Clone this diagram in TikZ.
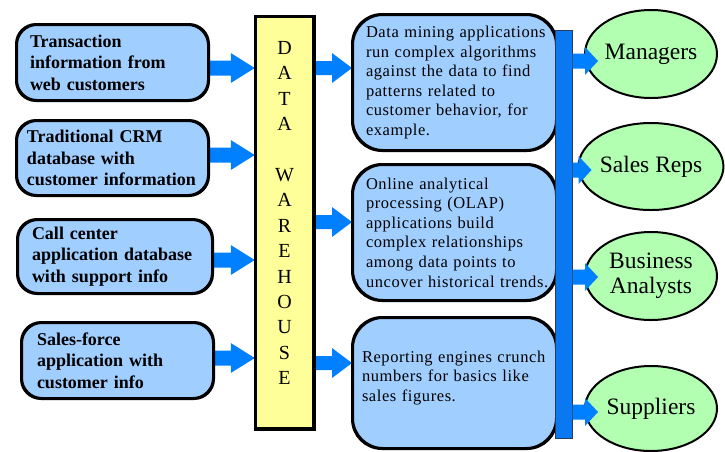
\documentclass[tikz,border=0pt]{standalone}
\usepackage{fontspec}
\setmainfont{Liberation Serif}
\newfontfamily\midfont[LetterSpace=3.5]{Liberation Serif}
\usetikzlibrary{calc,shapes.geometric}
\definecolor{boxblue}{RGB}{160,206,255}
\definecolor{ellgreen}{RGB}{178,255,178}
\definecolor{whyellow}{RGB}{255,255,153}
\definecolor{arrblue}{RGB}{0,128,255}
\definecolor{barblue}{RGB}{10,120,240}
\definecolor{baredge}{RGB}{40,60,90}
\newcommand\oneline[1]{\mbox{#1}}
% #1 start (sets y), #2 tip x reference, #3 tip x offset, #4 head length, #5 shaft half, #6 head half
\newcommand\blockarr[6]{%
  \fill[arrblue] let \p1=(#1), \p2=(#2) in
   (\x1,\y1+#5) -- (\x2+#3-#4,\y1+#5) -- (\x2+#3-#4,\y1+#6) -- (\x2+#3,\y1)
   -- (\x2+#3-#4,\y1-#6) -- (\x2+#3-#4,\y1-#5) -- (\x1,\y1-#5) -- cycle;}
\begin{document}
\begin{tikzpicture}[x=1pt,y=-1pt,
  srcbox/.style={draw=black, line width=2pt, fill=boxblue, rounded corners=20pt,
    align=left, inner ysep=0pt, font=\fontsize{18}{21.5}\selectfont\bfseries},
  appbox/.style={draw=black, line width=2pt, fill=boxblue, rounded corners=30pt,
    minimum width=203pt, align=left, inner ysep=0pt, font=\midfont\fontsize{16.5}{19.6}\selectfont},
  userell/.style={ellipse, draw=black, line width=2pt, fill=ellgreen, inner sep=0pt,
    minimum width=132pt, align=center, font=\fontsize{23.5}{25}\selectfont},
  whbox/.style={draw=black, line width=2.5pt, fill=whyellow, inner sep=0pt,
    minimum width=57pt, minimum height=411pt},
  busbar/.style={draw=baredge, line width=1pt, fill=barblue, inner sep=0pt,
    minimum width=17pt, minimum height=408pt}
]
\useasboundingbox (0,0) rectangle (725,451);

% source boxes
\node[srcbox, minimum width=191pt, minimum height=75pt, inner xsep=13pt, text width=165pt] (l1) at (112.5,62.5)
  {\oneline{Transaction}\\\oneline{information from}\\\oneline{web customers}};
\node[srcbox, minimum width=191pt, minimum height=74pt, inner xsep=10pt, text width=171pt] (l2) at (112.5,158)
  {\oneline{Traditional CRM}\\\oneline{database with}\\\oneline{customer information}};
\node[srcbox, minimum width=194pt, minimum height=73pt, inner xsep=14pt, text width=166pt] (l3) at (115,256.5)
  {\oneline{Call center}\\\oneline{application database}\\\oneline{with support info}};
\node[srcbox, minimum width=191pt, minimum height=75pt, inner xsep=15pt, text width=161pt] (l4) at (117.5,360.5)
  {\oneline{Sales-force}\\\oneline{application with}\\\oneline{customer info}};

% warehouse
\node[whbox] (wh) at (284.5,222.5)
  {\raisebox{9.5pt}[\height][\depth]{\parbox{24pt}{\centering\fontsize{20}{25.4}\selectfont
   D\\A\\T\\A\\[25.4pt]W\\A\\R\\E\\H\\O\\U\\S\\E}}};

% application boxes
\node[appbox, minimum height=135pt, inner xsep=13pt, text width=177pt] (m1) at (454.5,82.5)
  {\oneline{Data mining applications}\\\oneline{run complex algorithms}\\\oneline{against the data to find}\\
   \oneline{patterns related to}\\\oneline{customer behavior, for}\\\oneline{example.}};
\node[appbox, minimum height=135pt, inner xsep=13pt, text width=177pt] (m2) at (454.5,232.5)
  {\oneline{Online analytical}\\\oneline{processing (OLAP)}\\\oneline{applications build}\\
   \oneline{complex relationships}\\\oneline{among data points to}\\\oneline{uncover historical trends.}};
\node[appbox, minimum height=130pt, inner xsep=9pt, text width=185pt] (m3) at (454.5,383)
  {\raisebox{5pt}[\height][\depth]{\parbox{185pt}{\oneline{Reporting engines crunch}\\\oneline{numbers for basics like}\\\oneline{sales figures.}}}};

% arrows into and out of the warehouse
\blockarr{l1.east |- 0,68}{wh.west}{0pt}{24pt}{7.5pt}{15pt}
\blockarr{l2.east |- 0,155}{wh.west}{0pt}{24pt}{7.5pt}{15pt}
\blockarr{l3.east |- 0,260}{wh.west}{0pt}{24pt}{7.5pt}{15pt}
\blockarr{l4.east |- 0,358}{wh.west}{0pt}{24pt}{7.5pt}{15pt}
\blockarr{wh.east |- 0,68}{m1.west}{0pt}{20pt}{7pt}{15pt}
\blockarr{wh.east |- 0,222}{m2.west}{0pt}{20pt}{7pt}{15pt}
\blockarr{wh.east |- 0,363}{m3.west}{0pt}{20pt}{7pt}{15pt}

% redraw borders over arrow ends
\draw[line width=2pt, rounded corners=20pt] (l1.south west) rectangle (l1.north east);
\draw[line width=2pt, rounded corners=20pt] (l2.south west) rectangle (l2.north east);
\draw[line width=2pt, rounded corners=20pt] (l3.south west) rectangle (l3.north east);
\draw[line width=2pt, rounded corners=20pt] (l4.south west) rectangle (l4.north east);
\draw[line width=2.5pt] (wh.south west) rectangle (wh.north east);
\draw[line width=2pt, rounded corners=30pt] (m1.south west) rectangle (m1.north east);
\draw[line width=2pt, rounded corners=30pt] (m2.south west) rectangle (m2.north east);
\draw[line width=2pt, rounded corners=30pt] (m3.south west) rectangle (m3.north east);

% distribution bar
\node[busbar] (bar) at (563.5,234) {};

% user groups
\node[userell, minimum height=88pt] (e1) at (651,54) {Managers};
\node[userell, minimum height=87pt] (e2) at (651,166.5) {Sales Reps};
\node[userell, minimum height=88pt] (e3) at (651,276) {Business\\Analysts};
\node[userell, minimum height=85pt] (e4) at (651,408.5) {Suppliers};

\blockarr{bar.east |- 0,61}{e1.west}{14pt}{13pt}{7.5pt}{14pt}
\blockarr{bar.east |- 0,170}{e2.west}{14pt}{13pt}{7.5pt}{14pt}
\blockarr{bar.east |- 0,277}{e3.west}{14pt}{13pt}{7.5pt}{14pt}
\blockarr{bar.east |- 0,412}{e4.west}{14pt}{13pt}{7.5pt}{14pt}
\end{tikzpicture}
\end{document}
